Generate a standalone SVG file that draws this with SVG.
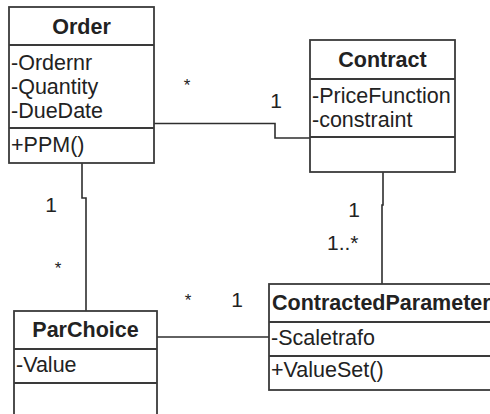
<svg xmlns="http://www.w3.org/2000/svg" width="490" height="414" viewBox="0 0 490 414">
  <style>
    .box { fill: #ffffff; stroke: #3a3a3a; stroke-width: 1.8; }
    .sep { stroke: #3a3a3a; stroke-width: 1.8; }
    .conn { fill: none; stroke: #2e2e2e; stroke-width: 1.6; }
    .title { font-family: "Liberation Sans", Arial, sans-serif; font-size: 21.5px; font-weight: bold; fill: #222; text-anchor: middle; }
    .member { font-family: "Liberation Sans", Arial, sans-serif; font-size: 21.5px; fill: #222; }
    .mult { font-family: "Liberation Sans", Arial, sans-serif; font-size: 21px; fill: #222; text-anchor: middle; }
    .star { font-family: "Liberation Sans", Arial, sans-serif; font-size: 17px; fill: #222; text-anchor: middle; }
  </style>
  <rect width="490" height="414" fill="#ffffff"/>

  <!-- associations -->
  <g id="connectors">
    <path class="conn" d="M154,123.5 H275 V138 H310"/>
    <path class="conn" d="M82,163 V198 H86 V311"/>
    <path class="conn" d="M383,172 V205 H382 V284"/>
    <path class="conn" d="M157,337 H269"/>

    <!-- multiplicities -->
    <text class="star" x="187" y="91">*</text>
    <text class="mult" x="276" y="108">1</text>
    <text class="mult" x="51" y="212">1</text>
    <text class="star" x="58" y="274">*</text>
    <text class="star" x="188" y="306">*</text>
    <text class="mult" x="237" y="307">1</text>
    <text class="mult" x="354" y="217">1</text>
    <text class="member" x="327" y="250" style="font-size:21px">1..*</text>
  </g>

  <!-- Order class -->
  <g id="order">
    <rect class="box" x="9" y="7" width="145" height="156"/>
    <line class="sep" x1="9" y1="45" x2="154" y2="45"/>
    <line class="sep" x1="9" y1="128" x2="154" y2="128"/>
    <text class="title" x="81.5" y="34">Order</text>
    <text class="member" x="11" y="70">-Ordernr</text>
    <text class="member" x="11" y="94">-Quantity</text>
    <text class="member" x="11" y="118">-DueDate</text>
    <text class="member" x="11" y="152">+PPM()</text>
  </g>

  <!-- Contract class -->
  <g id="contract">
    <rect class="box" x="310" y="40" width="145" height="132"/>
    <line class="sep" x1="310" y1="79" x2="455" y2="79"/>
    <line class="sep" x1="310" y1="137" x2="455" y2="137"/>
    <text class="title" x="382.5" y="67">Contract</text>
    <text class="member" x="312" y="103">-PriceFunction</text>
    <text class="member" x="312" y="127">-constraint</text>
  </g>

  <!-- ParChoice class -->
  <g id="parchoice">
    <rect class="box" x="14" y="311" width="143" height="110"/>
    <line class="sep" x1="14" y1="349" x2="157" y2="349"/>
    <line class="sep" x1="14" y1="383" x2="157" y2="383"/>
    <text class="title" x="85.5" y="337">ParChoice</text>
    <text class="member" x="16" y="372">-Value</text>
  </g>

  <!-- ContractedParameter class -->
  <g id="contractedparameter">
    <rect class="box" x="269" y="284" width="230" height="106"/>
    <line class="sep" x1="269" y1="322" x2="499" y2="322"/>
    <line class="sep" x1="269" y1="356" x2="499" y2="356"/>
    <text class="title" x="272" y="310" style="text-anchor:start">ContractedParameter</text>
    <text class="member" x="271" y="345">-Scaletrafo</text>
    <text class="member" x="271" y="377">+ValueSet()</text>
  </g>
</svg>
